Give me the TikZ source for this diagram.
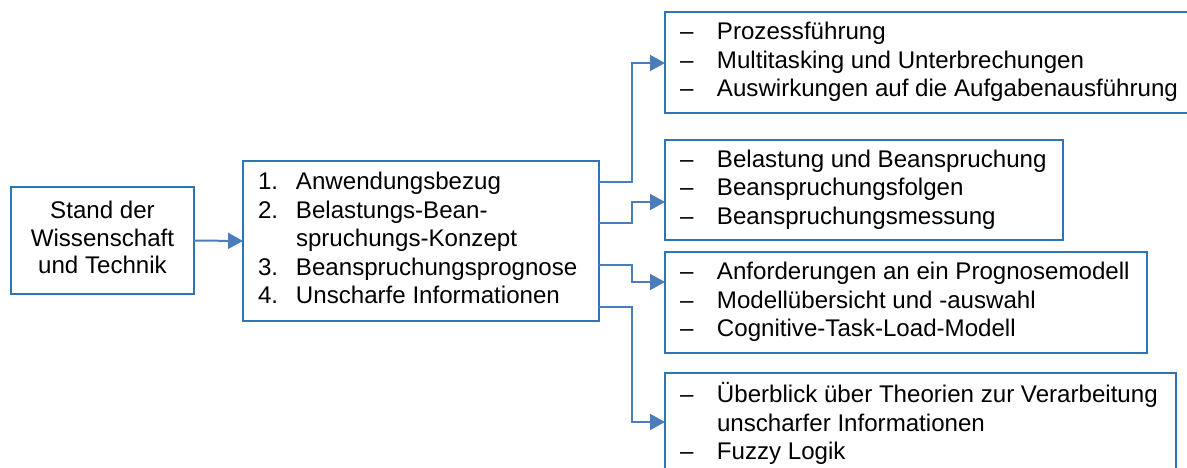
\documentclass[tikz,border=0pt]{standalone}
\usepackage{fontspec}
\setmainfont{Liberation Sans}
\usetikzlibrary{arrows.meta,calc}
\definecolor{boxblue}{RGB}{46,117,182}
\definecolor{linkblue}{RGB}{74,126,187}
\tikzset{
  box/.style={draw=boxblue, line width=2pt, rectangle, inner sep=0pt, outer sep=0pt, anchor=north west},
  txt/.style={inner sep=0pt, outer sep=0pt, anchor=west, font=\fontsize{24.1}{28.6}\selectfont},
  conn/.style={draw=linkblue, line width=2pt, -{Triangle[length=15pt,width=16pt]}},
}
\begin{document}
\begin{tikzpicture}[x=1pt,y=-1pt]
\useasboundingbox (0,0) rectangle (1187,468);
\clip (0,0) rectangle (1187,468);
% boxes
\node[box, minimum width=183pt, minimum height=107pt] (b0) at (11,187) {};
\node[box, minimum width=356pt, minimum height=160pt] (mid) at (243,161) {};
\node[box, minimum width=530pt, minimum height=101pt] (b1) at (665,12) {};
\node[box, minimum width=398pt, minimum height=100pt] (b2) at (665,140) {};
\node[box, minimum width=482pt, minimum height=101pt] (b3) at (665,252) {};
\node[box, minimum width=511pt, minimum height=105pt] (b4) at (665,373) {};
% texts
\node[txt, anchor=center] (t0) at (b0.center)
  {\fontsize{24.1}{27.5}\selectfont\begin{tabular}{@{}c@{}}Stand der\\Wissenschaft\\und Technik\end{tabular}};
\node[txt] (tm) at ($(mid.west)+(15,0)$)
  {\begin{tabular}{@{}p{38pt}@{}l@{}}1. & Anwendungsbezug\\2. & Belastungs-Bean-\\ & spruchungs-Konzept\\3. & Beanspruchungsprognose\\4. & Unscharfe Informationen\end{tabular}};
\node[txt] (t1) at ($(b1.west)+(15,0)$)
  {\begin{tabular}{@{}p{37pt}@{}l@{}}– & Prozessführung\\– & Multitasking und Unterbrechungen\\– & Auswirkungen auf die Aufgabenausführung\end{tabular}};
\node[txt] (t2) at ($(b2.west)+(15,0)$)
  {\begin{tabular}{@{}p{37pt}@{}l@{}}– & Belastung und Beanspruchung\\– & Beanspruchungsfolgen\\– & Beanspruchungsmessung\end{tabular}};
\node[txt] (t3) at ($(b3.west)+(15,0)$)
  {\begin{tabular}{@{}p{37pt}@{}l@{}}– & Anforderungen an ein Prognosemodell\\– & Modellübersicht und -auswahl\\– & Cognitive-Task-Load-Modell\end{tabular}};
\node[txt] (t4) at ($(b4.west)+(15,0)$)
  {\begin{tabular}{@{}p{37pt}@{}l@{}}– & Überblick über Theorien zur Verarbeitung\\ & unscharfer Informationen\\– & Fuzzy Logik\end{tabular}};
% connector helper coordinates
\coordinate (xc) at (632,0);
\coordinate (m1) at ($(mid.north east)+(0,21)$);
\coordinate (m2) at ($(mid.north east)+(0,62)$);
\coordinate (m3) at ($(mid.north east)+(0,104)$);
\coordinate (m4) at ($(mid.north east)+(0,146)$);
\coordinate (a1) at ($(b1.north west)+(0,51)$);
\coordinate (a2) at ($(b2.north west)+(0,62)$);
\coordinate (a3) at ($(b3.north west)+(0,30)$);
\coordinate (a4) at ($(b4.north west)+(0,49)$);
% connectors
\draw[conn] (b0.east) -- (mid.west);
\draw[conn] (m1) -- (m1 -| xc) |- (a1);
\draw[conn] (m2) -- (m2 -| xc) |- (a2);
\draw[conn] (m3) -- (m3 -| xc) |- (a3);
\draw[conn] (m4) -- (m4 -| xc) |- (a4);
\end{tikzpicture}
\end{document}
